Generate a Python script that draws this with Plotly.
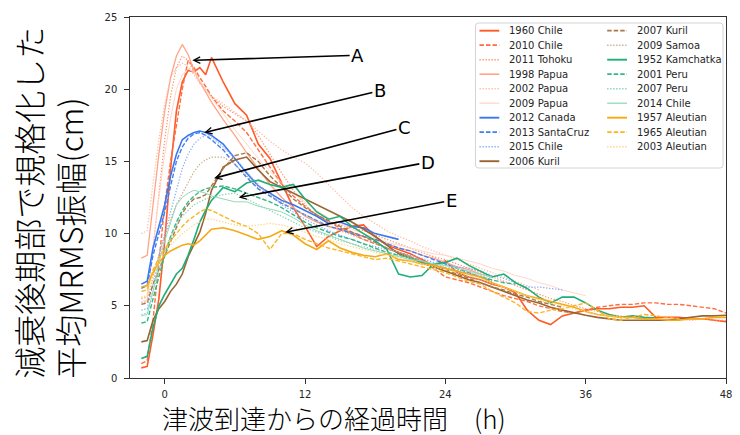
import plotly.graph_objects as go

# ---------------- data ----------------
T = [-2, -1.5, -1, -0.5, 0, 0.5, 1, 1.5, 2, 2.5, 3, 3.5, 4] + list(range(5, 49))

names = ["1960 Chile", "2010 Chile", "2011 Tohoku", "1998 Papua", "2002 Papua", "2009 Papua",
         "2012 Canada", "2013 SantaCruz", "2015 Chile", "2006 Kuril",
         "2007 Kuril", "2009 Samoa", "1952 Kamchatka", "2001 Peru", "2007 Peru", "2014 Chile",
         "1957 Aleutian", "1965 Aleutian", "2003 Aleutian"]

chile_1960 = [0.7, 0.8, 3.0, 5.5, 9.5, 14.5, 18.5, 20.5, 21.3, 21.2, 21.5, 21.0, 22.2,
              20.5, 19.0, 18.2, 16.2, 15.2, 13.5, 11.8, 10.5, 9.1, 9.8,
              10.2, 10.5, 10.6, 9.8, 9.2, 8.9, 8.6, 8.2, 7.8, 8.1,
              7.3, 7.0, 6.8, 6.5, 6.3, 5.9, 4.7, 4.0, 3.7, 4.3,
              4.5, 4.7, 4.8, 4.8, 4.9, 4.9, 5.0, 4.2, 4.2, 4.2,
              4.1, 4.1, 4.0, 3.9]
chile_2010 = [1.0, 1.2, 4.0, 8.0, 12.0, 15.0, 17.5, 20.0, 22.0, 21.5, 20.8, 20.2, 19.5,
              18.5, 17.8, 17.0, 15.8, 14.6, 13.4, 12.6, 11.9, 11.3, 10.8,
              10.4, 10.0, 9.6, 9.3, 9.0, 8.7, 8.4, 8.0, 7.6, 7.0,
              6.8, 6.6, 6.3, 6.0, 5.7, 5.5, 5.3, 5.0, 4.8, 4.6,
              4.5, 4.7, 4.9, 5.0, 5.1, 5.1, 5.2, 5.2, 5.1, 5.1,
              5.0, 4.9, 4.8, 4.5]
tohoku_2011 = [5.5, 5.6, 9.0, 13.0, 16.5, 19.5, 21.5, 22.3, 22.0, 21.2, 20.5, 20.0, 19.5,
               18.8, 18.3, 17.8, 16.8, 15.5, 14.2, 13.0, 12.0, 11.2, 10.8,
               10.6, 10.4, 10.2, 9.9, 9.6, 9.3, 9.0, 8.7, 8.4, 8.2,
               7.9, 7.6, 7.3, 7.0, 6.7, 6.4, 6.1, 5.8, 5.5, 5.3,
               5.0, 4.8, 4.6, 4.4, 4.3, 4.2, 4.1, 4.1, 4.0, 4.1,
               4.0, 4.1, 4.0, 4.0]
papua_1998 = [8.3, 8.5, 12.0, 15.5, 18.5, 20.8, 22.3, 23.1, 22.4, 21.3, 20.5, 19.8, 19.1,
              17.9, 16.8, 15.6, 14.5, 13.4, 12.5, 11.8, 11.2, 10.8, 10.5,
              10.3, 10.1, 9.8, 9.6, 9.3, 9.0, 8.8, 8.5, 8.3, 8.0,
              7.7, 7.5, 7.2, 7.0]
papua_2002 = [10.0, 10.2, 13.5, 16.5, 19.0, 20.8, 21.5, 21.8, 21.6, 21.0, 20.4, 19.9, 19.5,
              19.0, 18.4, 17.8, 17.1, 16.4, 15.8, 15.3, 14.9, 14.2, 13.4,
              12.6, 11.8, 11.2, 10.7, 10.2, 9.8, 9.5, 9.1, 8.8, 8.5,
              8.2, 7.9, 7.6, 7.3, 7.0, 6.7, 6.4, 6.1]
papua_2009 = [5.3, 5.4, 9.0, 12.5, 15.5, 18.0, 20.0, 21.0, 21.4, 21.2, 20.6, 20.0, 19.4,
              18.3, 17.2, 16.2, 15.2, 14.3, 13.5, 12.8, 12.2, 11.6, 11.1,
              10.7, 10.3, 10.0, 9.7, 9.4, 9.2, 9.0, 8.8, 8.6, 8.5,
              8.3, 8.1, 7.9, 7.6, 7.4, 7.1, 6.9, 6.6, 6.4, 6.1,
              5.9, 5.7]
canada_2012 = [6.5, 6.7, 9.0, 10.5, 12.0, 14.0, 15.5, 16.5, 16.8, 17.0, 17.1, 17.0, 16.8,
               16.2, 15.2, 14.2, 13.3, 12.8, 12.3, 12.0, 11.6, 11.2, 10.7,
               10.8, 10.5, 10.4, 10.0, 9.8, 9.6]
santacruz_2013 = [6.2, 6.4, 8.5, 10.0, 11.5, 13.3, 15.0, 16.0, 16.6, 16.9, 17.0, 16.8, 16.5,
                  15.8, 14.8, 13.9, 13.1, 12.6, 12.1, 11.7, 11.3, 10.9, 10.5,
                  10.3, 10.0, 9.8, 9.6, 9.3, 9.0, 8.8, 8.5, 8.2, 7.9,
                  7.6, 7.3, 7.0, 6.7]
chile_2015 = [4.7, 4.8, 6.5, 8.5, 10.0, 11.5, 13.0, 14.5, 15.5, 16.2, 16.6, 16.8, 16.7,
              16.0, 15.2, 14.3, 13.4, 12.7, 12.0, 11.5, 11.0, 10.6, 10.2,
              9.9, 9.6, 9.3, 9.1, 8.9, 8.7, 8.5, 8.3, 8.0, 7.8,
              7.7, 7.6, 7.4, 7.1, 6.9, 6.6, 6.3, 6.3, 6.2, 6.1]
kuril_2006 = [2.5, 2.6, 4.0, 4.8, 5.3, 6.0, 6.5, 7.2, 8.4, 9.2, 10.1, 11.4, 13.0,
              14.6, 15.1, 15.3, 14.4, 13.6, 13.2, 12.8, 12.4, 12.0, 11.6,
              11.2, 10.8, 10.3, 9.8, 9.2, 8.6, 8.3, 8.0, 7.7, 7.4,
              7.1, 6.8, 6.6, 6.3, 6.0, 5.7, 5.4, 5.2, 4.9, 4.7,
              4.5, 4.35, 4.2, 4.1, 4.0, 4.0, 4.0, 4.0, 4.0, 4.1,
              4.2, 4.3, 4.3, 4.35]
kuril_2007 = [5.1, 5.2, 6.5, 7.5, 8.5, 9.5, 10.5, 11.4, 12.0, 12.4, 12.5, 12.7, 13.3,
              14.5, 15.4, 15.6, 15.0, 14.0, 13.2, 12.4, 11.8, 11.3, 10.9,
              10.5, 10.1, 9.8, 9.4, 9.0, 8.7, 8.4, 8.1, 7.8, 7.5,
              7.2, 6.9, 6.6, 6.3, 6.1, 5.8, 5.6, 5.3, 5.1, 4.9]
samoa_2009 = [5.2, 5.3, 7.0, 8.5, 9.8, 11.0, 12.0, 12.8, 13.6, 14.3, 14.8, 15.1, 15.3,
              15.3, 14.8, 14.0, 13.3, 12.7, 12.2, 11.7, 11.3, 10.9, 10.5,
              10.2, 9.9, 9.6, 9.3, 9.0, 8.7, 8.4, 8.1, 7.8, 7.6,
              7.3, 7.0, 6.8, 6.5, 6.3, 6.0]
kamchatka_1952 = [1.35, 1.5, 3.5, 5.0, 5.8, 6.5, 7.2, 7.6, 8.5, 9.6, 10.8, 11.6, 12.3,
                  13.2, 12.9, 13.5, 13.7, 13.4, 13.2, 13.4, 12.4, 11.5, 11.0,
                  11.2, 10.5, 10.0, 9.5, 8.9, 7.2, 7.0, 7.1, 7.9, 8.0,
                  8.3, 7.8, 7.4, 7.0, 7.2, 6.6, 6.2, 5.6, 5.2, 5.6,
                  5.6, 5.2, 4.7, 4.4, 4.2, 4.3, 4.2, 4.15]
peru_2001 = [3.8, 3.9, 5.5, 7.0, 8.5, 9.8, 10.8, 11.6, 12.2, 12.6, 12.9, 13.1, 13.2,
             13.3, 13.1, 12.8, 12.5, 12.2, 11.8, 11.3, 10.8, 10.4, 10.1,
             9.8, 9.6, 9.3, 9.0, 8.7, 8.5, 8.3, 8.0, 7.8, 7.6,
             7.4, 7.2, 7.0, 6.8, 6.6, 6.5]
peru_2007 = [4.4, 4.5, 6.0, 7.5, 8.8, 9.8, 10.6, 11.2, 11.6, 12.0, 12.2, 12.4, 12.5,
             12.7, 12.8, 12.4, 12.0, 11.6, 11.2, 10.8, 10.4, 10.1, 9.8,
             9.5, 9.3, 9.1, 8.9, 8.7, 8.5, 8.3, 8.1, 7.9, 7.7,
             7.5, 7.3, 7.1, 6.9]
chile_2014 = [4.3, 4.4, 6.0, 8.0, 9.5, 10.8, 12.0, 12.5, 12.8, 13.0, 12.9, 12.8, 12.6,
              12.4, 12.2, 12.2, 11.9, 11.7, 11.5, 11.1, 10.6, 10.2, 9.9,
              9.6, 9.3, 9.0, 8.8, 8.6, 8.4, 8.2, 8.1, 7.9, 7.8,
              7.6, 7.4, 7.2, 7.0]
aleutian_1957 = [6.3, 6.4, 7.3, 8.0, 8.5, 8.8, 9.0, 9.2, 9.3, 9.2, 9.5, 9.9, 10.3,
                 10.4, 10.2, 9.9, 9.6, 9.8, 10.2, 9.9, 9.3, 8.9, 9.5,
                 9.0, 8.7, 8.5, 8.4, 8.6, 8.2, 8.1, 7.9, 7.8, 7.6,
                 7.4, 7.2, 7.0, 6.6, 6.3, 6.0, 5.7, 5.5, 5.3, 5.1,
                 4.9, 4.6, 4.4, 4.3, 4.2, 4.2, 4.1, 4.1, 4.0, 4.0,
                 4.1, 4.1, 4.2, 4.2]
aleutian_1965 = [6.0, 6.1, 7.5, 8.3, 8.9, 9.5, 10.0, 10.5, 10.9, 11.2, 11.5, 11.7, 11.6,
                 11.2, 10.8, 10.5, 10.0, 8.9, 10.0, 10.0, 9.6, 9.3, 9.0,
                 8.8, 8.6, 8.4, 8.2, 8.3, 8.1, 7.9, 7.7, 7.5, 7.3,
                 7.0, 6.7, 6.5, 6.0, 5.6, 5.2, 4.6, 4.5, 4.7, 4.8,
                 5.0, 5.2, 4.7, 4.1, 4.0, 4.2, 4.4, 4.3, 4.2, 4.1]
aleutian_2003 = [5.6, 5.7, 7.0, 8.0, 8.7, 9.2, 9.6, 10.0, 10.3, 10.6, 10.8, 11.0, 11.0,
                 10.8, 10.6, 10.5, 10.6, 10.7, 10.6, 10.4, 10.1, 9.8, 9.6,
                 9.3, 9.1, 8.9, 8.7, 8.5, 8.3, 8.1, 7.9, 7.7, 7.5,
                 7.3, 7.1, 6.9, 6.6, 6.3, 6.0, 5.7, 5.4, 5.2, 5.0,
                 4.8, 4.6, 4.4, 4.3, 4.2, 4.1]

values = [chile_1960, chile_2010, tohoku_2011, papua_1998, papua_2002, papua_2009,
          canada_2012, santacruz_2013, chile_2015, kuril_2006,
          kuril_2007, samoa_2009, kamchatka_1952, peru_2001, peru_2007, chile_2014,
          aleutian_1957, aleutian_1965, aleutian_2003]

colors = ["#ff5a28", "#ff6e40", "#ff916e", "#ffa586", "#ffbba3", "#ffd7c8",
          "#3a78f2", "#3f7ef5", "#86aaf7", "#9a6432",
          "#a8784a", "#c9a886", "#1fae78", "#33b985", "#7ed2ae", "#92d9ba",
          "#f5aa14", "#fbb424", "#fdd37a"]
dashes = ["solid", "dash", "dot", "solid", "dot", "solid",
          "solid", "dash", "dot", "solid",
          "dash", "dot", "solid", "dash", "dot", "solid",
          "solid", "dash", "dot"]
widths = [1.6, 1.4, 1.2, 1.3, 1.2, 1.0,
          1.6, 1.4, 1.2, 1.6,
          1.4, 1.2, 1.6, 1.4, 1.2, 1.0,
          1.6, 1.4, 1.2]

# arrow annotations (label position and arrow head position, data units)
ann_labels = ["A", "B", "C", "D", "E"]
ann_text_x = [16.5, 18.4, 20.5, 22.5, 24.5]
ann_text_y = [22.35, 19.9, 17.36, 14.94, 12.3]
ann_head_x = [2.36, 3.38, 4.22, 6.33, 10.3]
ann_head_y = [22.0, 17.0, 13.83, 12.5, 10.1]

x_ticks = [0, 12, 24, 36, 48]
y_ticks = [0, 5, 10, 15, 20, 25]

# ---------------- figure ----------------
W, H = 740, 435
ML, MR, MT, MB = 130, 8, 17, 57
PW, PH = W - ML - MR, H - MT - MB

def px(x):
    return (x - ML) / PW

def py(y):
    return (H - MB - y) / PH

dash_map = {"solid": None, "dash": "4.5px,2px", "dot": "1.3px,1.7px"}
CJK = "Noto Sans CJK JP Light, Noto Sans CJK JP DemiLight, Noto Sans CJK JP"

fig = go.Figure()
for name, vals, c, d, w in zip(names, values, colors, dashes, widths):
    fig.add_trace(go.Scatter(
        x=T[:len(vals)], y=vals, mode="lines", name=name, showlegend=False,
        line=dict(color=c, width=w, dash=dash_map[d] or "solid"),
    ))

annotations = []
for lab, tx, ty, hx, hy in zip(ann_labels, ann_text_x, ann_text_y, ann_head_x, ann_head_y):
    annotations.append(dict(
        x=hx, y=hy, xref="x", yref="y", ax=tx, ay=ty, axref="x", ayref="y",
        text=lab, showarrow=True, arrowhead=5, arrowsize=0.8, arrowwidth=1.6,
        arrowcolor="black", font=dict(family="DejaVu Sans", size=18, color="black"),
    ))

# axis titles
annotations.append(dict(
    x=px(48), y=py(381), xref="paper", yref="paper", xanchor="center", yanchor="bottom",
    text="減衰後期部で規格化した<br>平均MRMS振幅(cm)", showarrow=False, textangle=-90,
    align="left", font=dict(family=CJK, size=32, color="black", weight=300),
))
annotations.append(dict(
    x=px(161), y=py(417), xref="paper", yref="paper", xanchor="left", yanchor="middle",
    text="津波到達からの経過時間　(h)", showarrow=False, borderpad=0,
    font=dict(family=CJK, size=26, color="black", weight=300),
))

# legend (drawn manually, two columns, column-major order)
shapes = []
lx0, lx1, ly0, ly1, r = 479, 729, 23, 168, 3
rx, ry = r / PW, r / PH
x0, x1, y0, y1 = px(lx0), px(lx1), py(ly1), py(ly0)
path = (f"M {x0+rx},{y0} L {x1-rx},{y0} Q {x1},{y0} {x1},{y0+ry} L {x1},{y1-ry} "
        f"Q {x1},{y1} {x1-rx},{y1} L {x0+rx},{y1} Q {x0},{y1} {x0},{y1-ry} "
        f"L {x0},{y0+ry} Q {x0},{y0} {x0+rx},{y0} Z")
shapes.append(dict(type="path", path=path, xref="paper", yref="paper",
                   fillcolor="rgba(255,255,255,0.8)", line=dict(color="#d4d4d4", width=1)))
rows = 10
for i, (name, c, d, w) in enumerate(zip(names, colors, dashes, widths)):
    col, row = divmod(i, rows)
    yc = 30.7 + 14.5 * row
    lxa = 483 if col == 0 else 612
    shapes.append(dict(type="line", xref="paper", yref="paper",
                       x0=px(lxa), x1=px(lxa + 20), y0=py(yc), y1=py(yc),
                       line=dict(color=c, width=w + 0.3, dash=dash_map[d] or "solid")))
    annotations.append(dict(x=px(lxa + 28), y=py(yc), xref="paper", yref="paper",
                            xanchor="left", yanchor="middle", text=name, showarrow=False,
                            font=dict(family="DejaVu Sans", size=10, color="#262626")))

axis_common = dict(showline=True, linecolor="#333333", linewidth=1.3, mirror=True,
                   ticks="outside", ticklen=4.5, tickwidth=1, tickcolor="#333333",
                   showgrid=False, zeroline=False,
                   tickfont=dict(family="DejaVu Sans", size=10, color="#262626"))

fig.update_layout(
    width=W, height=H, margin=dict(l=ML, r=MR, t=MT, b=MB, pad=0),
    paper_bgcolor="white", plot_bgcolor="white",
    font=dict(family="DejaVu Sans"),
    xaxis=dict(range=[-2.97, 48], tickvals=x_ticks, ticklabelstandoff=2, **axis_common),
    yaxis=dict(range=[0, 25], tickvals=y_ticks, ticklabelstandoff=5, **axis_common),
    annotations=annotations, shapes=shapes, showlegend=False,
)

fig.write_html("out.html")
